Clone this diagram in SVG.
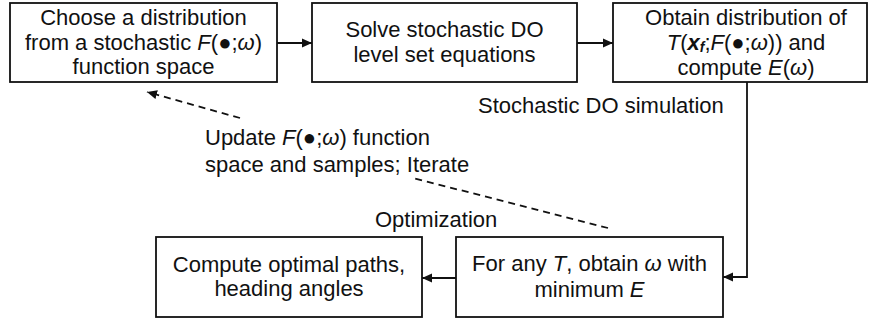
<svg xmlns="http://www.w3.org/2000/svg" width="871" height="324" viewBox="0 0 871 324">
  <defs>
    <marker id="arrow" viewBox="0 0 10 10" refX="10" refY="5" markerWidth="10" markerHeight="10" markerUnits="userSpaceOnUse" orient="auto">
      <path d="M0,0.5 L10,5 L0,9.5 Z" fill="#111"/>
    </marker>
    <style>
      .box { fill: #fff; stroke: #111; stroke-width: 1.8; }
      .t { font-family: "Liberation Sans", Arial, sans-serif; font-size: 22px; fill: #111; }
      .c { text-anchor: middle; }
      .i { font-style: italic; }
      .bi { font-style: italic; font-weight: bold; }
      .edge { fill: none; stroke: #111; stroke-width: 1.8; }
      .dash { fill: none; stroke: #111; stroke-width: 1.8; stroke-dasharray: 7 5; }
    </style>
  </defs>
  <rect width="871" height="324" fill="#fff"/>

  <g id="choose">
    <rect class="box" x="10" y="3" width="267" height="79"/>
    <text class="t c" x="143.5" y="25">Choose a distribution</text>
    <text class="t c" x="143.5" y="50">from a stochastic <tspan class="i">F</tspan>(●;<tspan class="i">ω</tspan>)</text>
    <text class="t c" x="143.5" y="74">function space</text>
  </g>

  <g id="solve">
    <rect class="box" x="312" y="3" width="265" height="79"/>
    <text class="t c" x="444.5" y="37">Solve stochastic DO</text>
    <text class="t c" x="444.5" y="62">level set equations</text>
  </g>

  <g id="obtain">
    <rect class="box" x="613" y="3" width="254" height="79"/>
    <text class="t c" x="746" y="25">Obtain distribution of</text>
    <text class="t c" x="746" y="50"><tspan class="i">T</tspan>(<tspan class="bi">x</tspan><tspan class="bi" font-size="14" dy="2">f</tspan><tspan dy="-2">;</tspan><tspan class="i">F</tspan>(●;<tspan class="i">ω</tspan>)) and</text>
    <text class="t c" x="746" y="75">compute <tspan class="i">E</tspan>(<tspan class="i">ω</tspan>)</text>
  </g>

  <g id="minimize">
    <rect class="box" x="456" y="237" width="267" height="80"/>
    <text class="t c" x="589.5" y="271">For any <tspan class="i">T</tspan>, obtain <tspan class="i">ω</tspan> with</text>
    <text class="t c" x="589.5" y="297">minimum <tspan class="i">E</tspan></text>
  </g>

  <g id="paths">
    <rect class="box" x="156" y="237" width="266" height="80"/>
    <text class="t c" x="289" y="272">Compute optimal paths,</text>
    <text class="t c" x="289" y="296">heading angles</text>
  </g>

  <g id="connectors">
    <line class="edge" x1="277" y1="43" x2="312" y2="43" marker-end="url(#arrow)"/>
    <line class="edge" x1="577" y1="43" x2="613" y2="43" marker-end="url(#arrow)"/>
    <polyline class="edge" points="747,82 747,277 723,277" marker-end="url(#arrow)"/>
    <line class="edge" x1="456" y1="278" x2="422" y2="278" marker-end="url(#arrow)"/>
    <line class="dash" x1="608" y1="228" x2="413" y2="178"/>
    <line class="dash" x1="240" y1="118" x2="147" y2="92" marker-end="url(#arrow)"/>
  </g>

  <g id="labels">
    <text class="t" x="478" y="113">Stochastic DO simulation</text>
    <text class="t" x="205" y="145">Update <tspan class="i">F</tspan>(●;<tspan class="i">ω</tspan>) function</text>
    <text class="t" x="205" y="172">space and samples; Iterate</text>
    <text class="t" x="375" y="227">Optimization</text>
  </g>
</svg>
